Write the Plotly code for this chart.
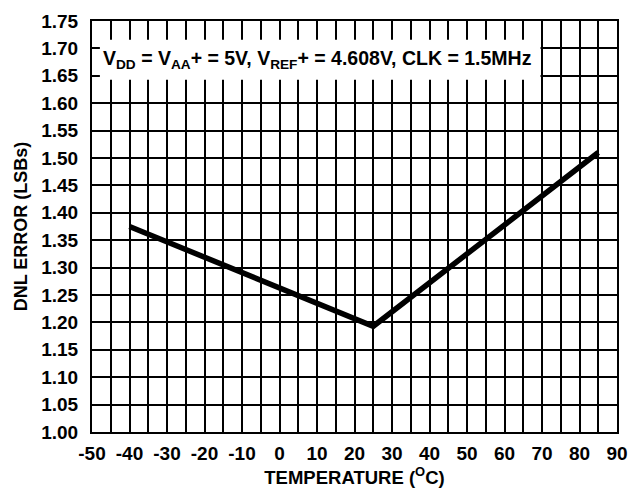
import plotly.graph_objects as go

temperature = [-40, 25, 85]
dnl_error = [1.375, 1.193, 1.51]

x_ticks = [-50, -40, -30, -20, -10, 0, 10, 20, 30, 40, 50, 60, 70, 80, 90]
y_ticks = [1.00, 1.05, 1.10, 1.15, 1.20, 1.25, 1.30, 1.35, 1.40, 1.45, 1.50, 1.55, 1.60, 1.65, 1.70, 1.75]

FONT = "Liberation Sans, Arial, sans-serif"

fig = go.Figure()
fig.add_trace(go.Scatter(
    x=temperature, y=dnl_error, mode="lines",
    line=dict(color="black", width=5.5), showlegend=False,
))

fig.add_shape(type="rect", xref="x", yref="y",
              x0=-47.9, x1=69.6, y0=1.6426, y1=1.716,
              fillcolor="white", line=dict(width=0), layer="above")

fig.add_annotation(
    x=0.43, y=1.679, xref="paper", yref="y",
    text="<b>V<sub>DD</sub> = V<sub>AA</sub>+ = 5V, V<sub>REF</sub>+ = 4.608V, CLK = 1.5MHz</b>",
    showarrow=False, font=dict(family=FONT, size=19.5, color="black"),
    xanchor="center", yanchor="middle",
)

fig.update_layout(
    width=639, height=493,
    margin=dict(l=92, r=11, t=14, b=60),
    paper_bgcolor="white", plot_bgcolor="white",
    font=dict(family=FONT, color="black", size=18),
    xaxis=dict(
        range=[-50, 90], tickvals=x_ticks,
        ticktext=[f"<b>{v}</b>" for v in x_ticks],
        showgrid=True, gridcolor="black", gridwidth=1.5,
        minor=dict(dtick=5, tick0=0, showgrid=True, gridcolor="black", gridwidth=1.5),
        showline=True, linecolor="black", linewidth=2, mirror=True,
        ticks="", zeroline=False, ticklabelstandoff=3,
        title=dict(text="<b>TEMPERATURE (<sup>O</sup>C)</b>", font=dict(size=18.5), standoff=5),
        tickfont=dict(size=19),
    ),
    yaxis=dict(
        range=[1.0, 1.75], tickvals=y_ticks,
        ticktext=[f"<b>{v:.2f}</b>" for v in y_ticks],
        showgrid=True, gridcolor="black", gridwidth=1.5,
        showline=True, linecolor="black", linewidth=2, mirror=True,
        ticks="", zeroline=False, ticklabelstandoff=8,
        title=dict(text="<b>DNL ERROR (LSBs)</b>", font=dict(size=18), standoff=9),
        tickfont=dict(size=19),
    ),
)

fig.write_html("out.html")
